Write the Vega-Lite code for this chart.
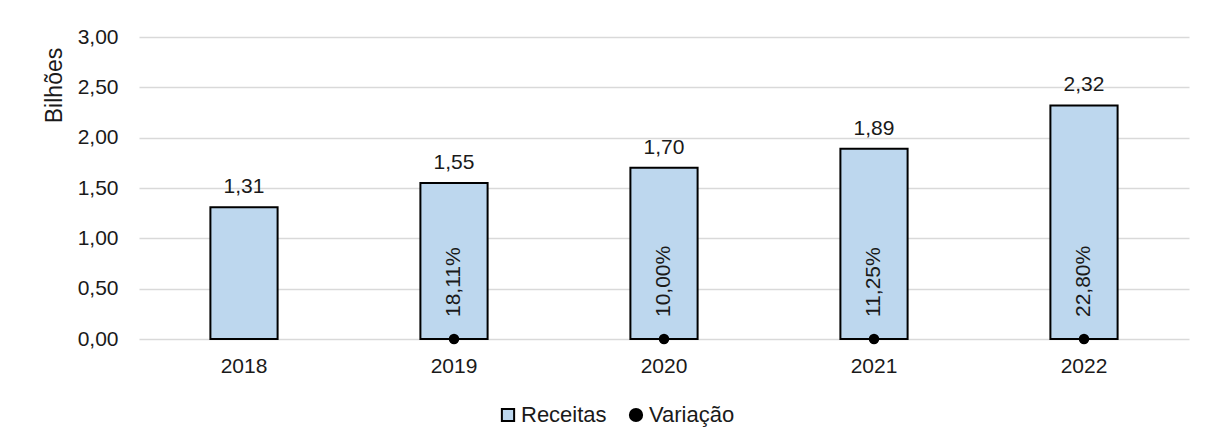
{
  "$schema": "https://vega.github.io/schema/vega-lite/v6.json",
  "autosize": {"type": "none"},
  "width": 1050,
  "height": 302,
  "padding": {"left": 139, "top": 37, "right": 16, "bottom": 102},
  "background": "white",
  "config": {
    "locale": {"number": {"decimal": ",", "thousands": ".", "grouping": [3], "currency": ["R$", ""]}},
    "font": "Liberation Sans",
    "view": {"stroke": null},
    "text": {"font": "Liberation Sans", "fontSize": 21, "color": "#1a1a1a"}
  },
  "data": {
    "values": [
      {"ano": "2018", "receitas": 1.31, "variacao": null},
      {"ano": "2019", "receitas": 1.55, "variacao": 0.1811},
      {"ano": "2020", "receitas": 1.70, "variacao": 0.1000},
      {"ano": "2021", "receitas": 1.89, "variacao": 0.1125},
      {"ano": "2022", "receitas": 2.32, "variacao": 0.2280}
    ]
  },
  "encoding": {
    "x": {
      "field": "ano", "type": "nominal",
      "scale": {"paddingInner": 0.68, "paddingOuter": 0.34},
      "axis": {
        "title": null, "labelAngle": 0, "domain": false, "ticks": false,
        "labelPadding": 16, "labelFont": "Liberation Sans", "labelFontSize": 21, "labelColor": "#1a1a1a"
      }
    }
  },
  "layer": [
    {
      "mark": {"type": "bar", "stroke": "#000000", "strokeWidth": 2},
      "encoding": {
        "y": {
          "field": "receitas", "type": "quantitative",
          "scale": {"domain": [0, 3], "nice": false},
          "axis": {
            "title": "Bilhões",
            "values": [0, 0.5, 1, 1.5, 2, 2.5, 3],
            "format": ".2f",
            "domain": false, "ticks": false,
            "labelPadding": 21, "labelFont": "Liberation Sans", "labelFontSize": 21, "labelColor": "#1a1a1a",
            "grid": true, "gridColor": "#d9d9d9", "gridWidth": 1.5,
            "titleFont": "Liberation Sans", "titleFontSize": 23, "titleFontWeight": "normal", "titleColor": "#1a1a1a",
            "titleX": -78, "titleY": 48, "titleAlign": "center", "titleBaseline": "alphabetic"
          }
        },
        "fill": {
          "datum": "Receitas",
          "scale": {"domain": ["Receitas", "Variação"], "range": ["#BDD7EE", "#000000"]},
          "legend": {
            "title": null, "orient": "none", "direction": "horizontal",
            "legendX": 358, "legendY": 367,
            "labelFont": "Liberation Sans", "labelFontSize": 22, "labelColor": "#1a1a1a",
            "labelOffset": 2, "columnPadding": 18,
            "symbolSize": 150, "symbolStrokeColor": "#000000", "symbolStrokeWidth": 2
          }
        }
      }
    },
    {
      "mark": {"type": "text", "baseline": "alphabetic", "dy": -14},
      "encoding": {
        "y": {"field": "receitas", "type": "quantitative"},
        "text": {"field": "receitas", "type": "quantitative", "format": ".2f"}
      }
    },
    {
      "transform": [{"filter": "datum.variacao != null"}],
      "mark": {"type": "point", "filled": true, "size": 110, "opacity": 1},
      "encoding": {
        "y": {"datum": 0},
        "fill": {"datum": "Variação"},
        "shape": {
          "datum": "Variação",
          "scale": {"domain": ["Receitas", "Variação"], "range": ["square", "circle"]}
        }
      }
    },
    {
      "transform": [{"filter": "datum.variacao != null"}],
      "mark": {"type": "text", "angle": 270, "align": "left", "baseline": "middle", "dx": 22},
      "encoding": {
        "y": {"datum": 0},
        "text": {"field": "variacao", "type": "quantitative", "format": ".2%"}
      }
    }
  ]
}
